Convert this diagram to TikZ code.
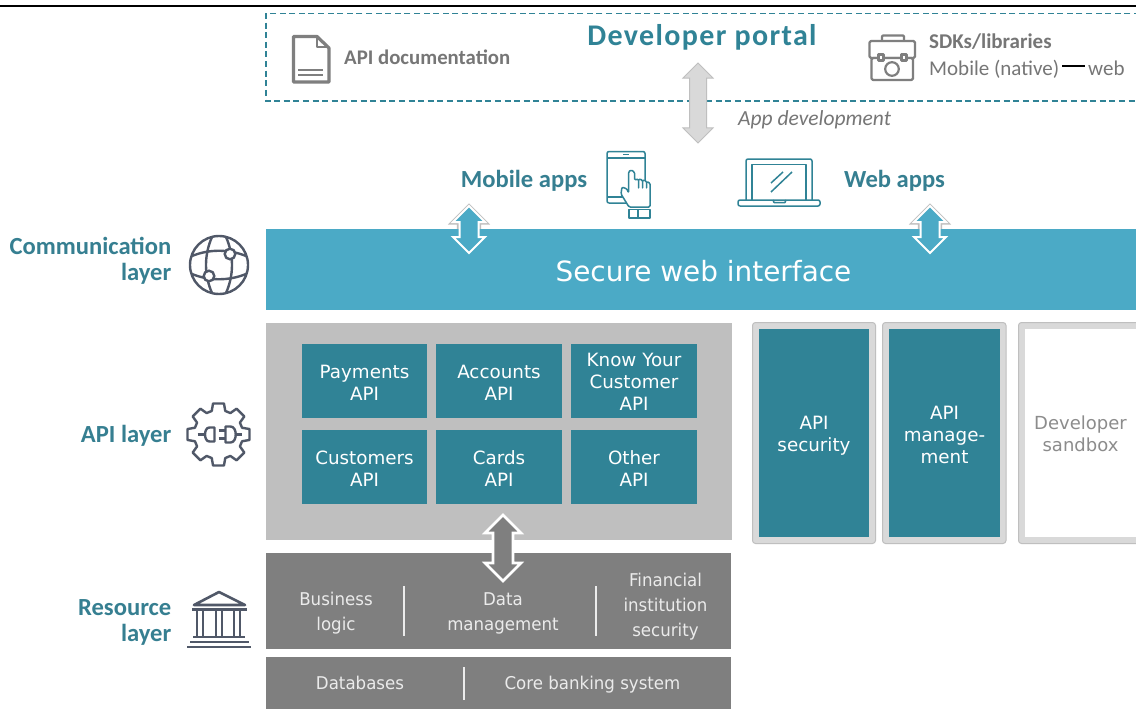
\documentclass[tikz,border=0pt]{standalone}
\usepackage{fontspec}
\setmainfont{Carlito}
\newfontfamily\versans{DejaVu Sans}
\newfontfamily\tahsans[FakeStretch=0.945]{DejaVu Sans}
\usetikzlibrary{shapes.arrows}
\definecolor{tealbox}{HTML}{308396}
\definecolor{tealtxt}{HTML}{367F91}
\definecolor{bandblue}{HTML}{4BAAC6}
\definecolor{panelgray}{HTML}{BFBFBF}
\definecolor{darkgray}{HTML}{7F7F7F}
\definecolor{lightgray}{HTML}{D9D9D9}
\definecolor{icondark}{HTML}{505868}
\definecolor{txtgray}{HTML}{767676}
\newcommand{\vfs}[2]{\versans\fontsize{#1}{#2}\selectfont}
\newcommand{\tfs}[2]{\tahsans\fontsize{#1}{#2}\selectfont}
\newcommand{\cfs}[2]{\fontsize{#1}{#2}\selectfont}
\tikzset{
  x=1pt,y=-1pt,
  rectfill/.style={draw=none,inner sep=0pt,outer sep=0pt},
  vtext/.style={align=center,inner sep=0pt,text=white},
  apibox/.style={rectfill,fill=tealbox,minimum width=125pt,minimum height=74pt,anchor=north west},
  apitext/.style={vtext,font=\vfs{18.3}{22}},
  restext/.style={vtext,text=white!92!black,font=\tfs{17.6}{25}},
  layerlabel/.style={align=right,anchor=east,inner sep=0pt,text=tealtxt,font=\bfseries\cfs{24.6}{26}},
  applabel/.style={inner sep=0pt,text=tealtxt,font=\bfseries\cfs{24.6}{26}},
  blockarrow/.style={double arrow,double arrow tip angle=90,inner xsep=0pt,outer sep=0pt,rotate=90},
  sidebox/.style={draw=panelgray,line width=1pt,fill=lightgray,rounded corners=3pt},
  sep/.style={draw=white!85!darkgray,line width=1.3pt},
}
\begin{document}
\begin{tikzpicture}
\useasboundingbox (0,0) rectangle (1136,709);
\fill[white] (0,0) rectangle (1136,709);
\clip (0,0) rectangle (1136,709);
% top rule
\draw[black,line width=2.6pt] (0,6) -- (1136,6);
% developer portal frame
\draw[tealbox,line width=1.3pt,dash pattern=on 6pt off 3.6pt] (1140,13.5) -- (266,13.5) -- (266,101) -- (1140,101);
\node[inner sep=0pt,text=tealbox,font=\bfseries\cfs{30}{32}] (portal) at (702,37) {\addfontfeatures{LetterSpace=4.5}Developer portal};
\node[inner sep=0pt,anchor=west,text=txtgray,font=\bfseries\cfs{20.8}{24}] (apidoc) at (344,57.5) {API documentation};
\node[inner sep=0pt,anchor=west,text=txtgray,font=\bfseries\cfs{21}{24}] (sdk) at (929,41.5) {SDKs/libraries};
\node[inner sep=0pt,anchor=base west,text=txtgray,font=\cfs{21}{24}] (native) at (929,75.5) {Mobile (native)};
\node[inner sep=0pt,anchor=base west,text=txtgray,font=\cfs{21}{24}] (web) at (1088,75.5) {web};
\draw[black,line width=2.2pt] (1062,66) -- (1085,66);
\node[inner sep=0pt,anchor=west,text=txtgray,font=\itshape\cfs{21.5}{24}] (appdev) at (738,119.5) {App development};
% doc icon
\draw[darkgray,line width=3.2pt,line join=round,fill=white] (293.5,36.5) -- (317,36.5) -- (329,48) -- (329,82) -- (293.5,82) -- cycle;
\draw[darkgray,line width=1.8pt,line join=round] (317,36) -- (317,47) -- (329,47);
\draw[darkgray,line width=1.8pt] (298,70) -- (323,70) (298,75) -- (323,75);
% toolbox icon
\begin{scope}[draw=darkgray,line width=2.2pt,line join=round]
\draw[rounded corners=1pt] (882,41) -- (882,35.5) -- (904,35.5) -- (904,41);
\draw[rounded corners=1.5pt] (869.5,41) rectangle (915,58);
\draw[rounded corners=1.5pt,fill=white] (871.5,58) rectangle (913,80);
\draw[fill=white] (878.5,54.5) rectangle (883.5,60.5);
\draw[fill=white] (901.5,54.5) rectangle (906.5,60.5);
\draw (892,69) circle (6.8);
\end{scope}
% arrows under the band
\node[blockarrow,inner ysep=8pt,fill=lightgray,draw=panelgray,line width=1pt,minimum height=80pt,double arrow head extend=6.5pt] (devarrow) at (698,103) {};
\node[blockarrow,inner ysep=8.5pt,fill=white,draw=panelgray,line width=3.6pt,minimum height=47pt,double arrow head extend=6.5pt] (mobshadow) at (469,229.5) {};
\node[blockarrow,inner ysep=8.5pt,fill=white,draw=panelgray,line width=3.6pt,minimum height=47pt,double arrow head extend=6.5pt] (webshadow) at (930,229.5) {};
% icons and labels for apps
\node[applabel] (mobile) at (524,181) {Mobile apps};
\node[applabel] (webapps) at (894.5,181) {Web apps};
% tablet
\begin{scope}[draw=tealbox,line width=1.5pt,line join=round]
\draw[rounded corners=2pt] (607,151.5) rectangle (645,203);
\draw (607,158) -- (645,158) (607,197) -- (629,197);
\draw[line width=1.6pt] (623,154.5) -- (629,154.5);
\draw[fill=white,rounded corners=1.2pt] (629,207) -- (621,194) -- (622,187) -- (627,189) -- (628.5,193) -- (628.5,172) -- (631,170) -- (634.5,172) -- (634.5,180) -- (638.5,179) -- (638.5,189) -- (638.5,179) -- (642.5,180) -- (642.5,189) -- (642.5,180) -- (646.5,181) -- (646.5,189) -- (646.5,181.5) -- (650,183) -- (650,207) -- cycle;
\draw[fill=white] (629,209.5) rectangle (650,218);
\draw (638,209.5) -- (638,218);
\end{scope}
% laptop
\begin{scope}[draw=tealbox,line width=1.5pt,line join=round]
\draw[rounded corners=2pt] (746,200) -- (746,159) -- (812,159) -- (812,200);
\draw (752,200) -- (752,164.5) -- (806,164.5) -- (806,200);
\draw[rounded corners=2pt] (738,200) -- (820,200) -- (820,206) -- (738,206) -- cycle;
\draw (771,183) -- (783,172) (771,192) -- (792,172);
\draw (773,200) -- (774,202.5) -- (785,202.5) -- (786,200);
\end{scope}
% band
\node[rectfill,fill=bandblue,minimum width=870pt,minimum height=81pt,anchor=north west] (band) at (266,229) {};
\node[inner sep=0pt,text=white,font=\vfs{27.9}{30}] (bandtext) at (703.5,271) {Secure web interface};
\node[blockarrow,inner ysep=8.5pt,fill=bandblue,draw=white,line width=2pt,minimum height=47pt,double arrow head extend=6.5pt] (mobarrow) at (469,229.5) {};
\node[blockarrow,inner ysep=8.5pt,fill=bandblue,draw=white,line width=2pt,minimum height=47pt,double arrow head extend=6.5pt] (webarrow) at (930,229.5) {};
% layer labels
\node[layerlabel] (comm) at (171.5,261) {Communication\\layer};
\node[layerlabel] (apil) at (171.5,436) {API layer};
\node[layerlabel] (reso) at (171.5,622) {Resource\\layer};
% globe icon
\begin{scope}[shift={(219,265)},draw=icondark,line width=2.4pt]
\draw (0,0) circle (29);
\draw (-7,-28) .. controls (-15,-10) and (-15,10) .. (-7,28);
\draw (7,-28) .. controls (15,-10) and (15,10) .. (7,28);
\draw (-27,-9) .. controls (-10,-16) and (10,-16) .. (27,-9);
\draw (-27,9) .. controls (-10,16) and (10,16) .. (27,9);
\draw[fill=white] (11,-11) circle (5.3);
\draw[fill=white] (-10,11) circle (5.3);
\end{scope}
% gear icon
\begin{scope}[shift={(218.5,434.5)},draw=icondark,line width=2.4pt,line join=round]
\draw (-10:31.5) \foreach \a in {0,45,...,315} { -- (\a+10:31.5) -- (\a+16:24.5) -- (\a+29:24.5) -- (\a+35:31.5) } -- cycle;
\draw (-21,0) -- (-14,0);
\draw (-4,-7) -- (-9,-7) .. controls (-15,-7) and (-15,7) .. (-9,7) -- (-4,7) -- cycle;
\draw (0,-4) -- (7,-4) (0,4) -- (7,4);
\draw (7,-8) -- (12,-8) .. controls (19,-8) and (19,8) .. (12,8) -- (7,8) -- cycle;
\draw (17,0) -- (23,0);
\end{scope}
% temple icon
\begin{scope}[draw=icondark,line width=2.6pt,line join=round]
\draw (194,605) -- (219,592) -- (245,605) -- cycle;
\draw (192,609.5) -- (247,609.5);
\draw[line width=2.2pt] (197,610) -- (197,637) (203,610) -- (203,637) (216,610) -- (216,637) (222,610) -- (222,637) (234,610) -- (234,637) (240,610) -- (240,637);
\draw (193,637) -- (245,637) (190,642) -- (249,642);
\draw (187,647) -- (251,647);
\end{scope}
% API panel
\node[rectfill,fill=panelgray,minimum width=466pt,minimum height=217pt,anchor=north west] (panel) at (266,323) {};
\node[apibox] (pay) at (302,344) {};
\node[apibox,minimum width=126pt] (acc) at (436,344) {};
\node[apibox,minimum width=126pt] (kyc) at (571,344) {};
\node[apibox] (cust) at (302,430) {};
\node[apibox,minimum width=126pt] (card) at (436,430) {};
\node[apibox,minimum width=126pt] (other) at (571,430) {};
\node[apitext] (payt) at ([yshift=-2pt]pay.center) {Payments\\API};
\node[apitext] (acct) at ([yshift=-2pt]acc.center) {Accounts\\API};
\node[apitext] (kyct) at ([yshift=-1pt]kyc.center) {Know Your\\Customer\\API};
\node[apitext] (custt) at ([yshift=-2pt]cust.center) {Customers\\API};
\node[apitext] (cardt) at ([yshift=-2pt]card.center) {Cards\\API};
\node[apitext] (othert) at ([yshift=-2pt]other.center) {Other\\API};
% resource
\node[rectfill,fill=darkgray,minimum width=465pt,minimum height=96pt,anchor=north west] (res1) at (266,553) {};
\node[rectfill,fill=darkgray,minimum width=465pt,minimum height=52pt,anchor=north west] (res2) at (266,657) {};
\node[restext] (biz) at (336,613) {Business\\logic};
\node[restext] (data) at (503,613.5) {Data\\management};
\node[restext] (fin) at (665.5,607) {Financial\\institution\\security};
\node[restext,anchor=base] (db) at (360,689.5) {Databases};
\node[restext,anchor=base] (core) at (592.5,689.5) {Core banking system};
\draw[sep] (404,586) -- (404,636) (596,586) -- (596,636) (464,667) -- (464,700);
\node[blockarrow,inner ysep=8.7pt,fill=darkgray,draw=white,line width=2.6pt,minimum height=66pt,double arrow head extend=8pt] (dataarrow) at (503,548) {};
% side boxes
\draw[sidebox] (752.5,322.5) rectangle (875.5,543.5);
\draw[sidebox] (882.5,322.5) rectangle (1006,543.5);
\draw[sidebox] (1018.5,322.5) rectangle (1150,543.5);
\node[rectfill,fill=tealbox,minimum width=110pt,minimum height=208pt,anchor=north west] (sec) at (759,329) {};
\node[rectfill,fill=tealbox,minimum width=111pt,minimum height=208pt,anchor=north west] (mgmt) at (889,329) {};
\node[apitext] (sect) at ([yshift=-3pt]sec.center) {API\\security};
\node[apitext] (mgmtt) at ([yshift=-2pt]mgmt.center) {API\\manage-\\ment};
\node[rectfill,fill=white,minimum width=120pt,minimum height=208pt,anchor=north west] (sandbox) at (1025,329) {};
\node[vtext,text=darkgray!90!white,font=\vfs{18}{22}] (sandtxt) at (1080.5,434) {Developer\\sandbox};
\end{tikzpicture}
\end{document}
